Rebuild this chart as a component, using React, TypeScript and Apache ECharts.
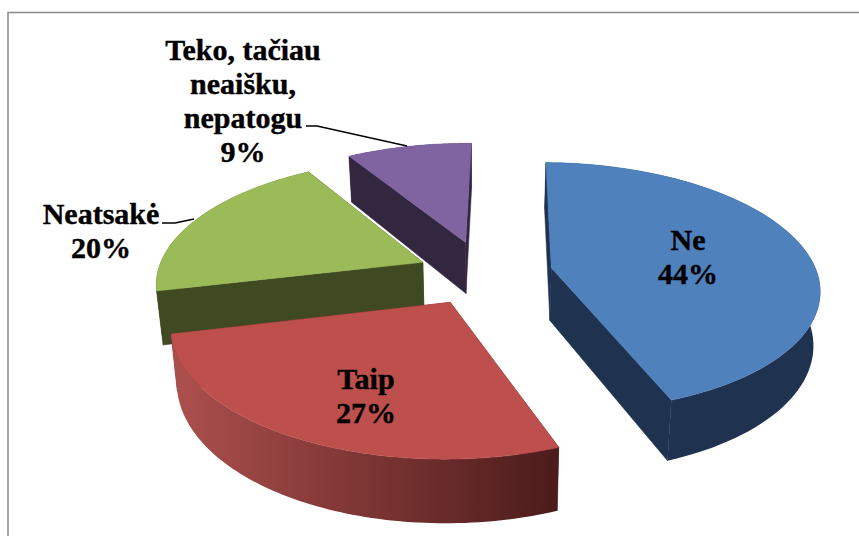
import React, { useEffect, useRef } from "react";
import * as echarts from "echarts";

const categories = ["Ne", "Taip", "Neatsakė", "Teko, tačiau\nneaišku,\nnepatogu"];
const values = [44, 27, 20, 9];

// Styles and projection settings (not data)
const topColors = ["#4f81bd", "#bd4f4c", "#9bbb59", "#8064a2"];
const wallColors = ["#1f3350", "#6a2b29", "#3f4922", "#33263f"];
const explodeX = [0.27, -0.108, -0.218, -0.056];
const explodeZ = [0.099, -0.174, 0.145, 0.315];
const drawOrder = [3, 4, 1, 2];
const labelX = [688, 366, 101, 243];
const labelY = [256, 395, 230, 100];
const START_DEG = 1;
const O = { x: 480, y: 280 };
const R = 268;
const RZ = 125;
const K = 0.154;

const project = (X: number, Z: number): [number, number] => {
  const s = 1 / (1 + K * Z);
  return [O.x + R * X * s, O.y - RZ * Z * s];
};
const lower = (p: [number, number]): [number, number] => [
  480 + (p[0] - 480) * 0.98,
  p[1] + 46 + 0.06 * (p[1] - 157),
];

const total = values.reduce((a, b) => a + b, 0);

const renderItem = (params: any, api: any) => {
  const i = params.dataIndex;
  const before = values.slice(0, i).reduce((a, b) => a + b, 0);
  const a0 = START_DEG + (before / total) * 360;
  const a1 = a0 + (api.value(0) / total) * 360;
  const ox = explodeX[i];
  const oz = explodeZ[i];
  const rim: [number, number][] = [];
  const n = 80;
  for (let k = 0; k <= n; k++) {
    const t = ((a0 + ((a1 - a0) * k) / n) * Math.PI) / 180;
    rim.push(project(ox + Math.sin(t), oz + Math.cos(t)));
  }
  const c = project(ox, oz);
  const cb = lower(c);
  const rimB = rim.map(lower);
  const z = drawOrder[i] * 10;
  const wallStyle = { fill: wallColors[i], stroke: wallColors[i], lineWidth: 0.5 };
  const rimFill =
    i === 1
      ? new echarts.graphic.LinearGradient(0, 0, 1, 0, [
          { offset: 0, color: "#ad504d" },
          { offset: 1, color: "#4b1b1b" },
        ])
      : wallColors[i];
  const children: any[] = [
    { type: "polygon", z2: z, shape: { points: [c, rim[0], rimB[0], cb] }, style: wallStyle },
    { type: "polygon", z2: z, shape: { points: [c, rim[n], rimB[n], cb] }, style: wallStyle },
    {
      type: "polygon",
      z2: z + 1,
      shape: { points: [...rim, ...rimB.slice().reverse()] },
      style: { fill: rimFill },
    },
    {
      type: "polygon",
      z2: z + 2,
      shape: { points: [c, ...rim] },
      style: { fill: topColors[i], stroke: topColors[i], lineWidth: 0.5 },
    },
    {
      type: "text",
      z2: 100,
      style: {
        text: `${categories[i]}\n${api.value(0)}%`,
        x: labelX[i],
        y: labelY[i],
        align: "center",
        verticalAlign: "middle",
        fill: "#000",
        stroke: "#000",
        lineWidth: 0.4,
        font: 'bold 30px "Liberation Serif"',
        lineHeight: 34,
      },
    },
  ];
  return { type: "group", children };
};

export default function App() {
  const ref = useRef<HTMLDivElement>(null);
  useEffect(() => {
    const chart = echarts.init(ref.current!, null, { renderer: "svg" });
    chart.setOption({
      animation: false,
      backgroundColor: "#ffffff",
      graphic: [
        {
          type: "rect",
          silent: true,
          shape: { x: 8, y: 12.5, width: 900, height: 600 },
          style: { fill: "none", stroke: "#8a8a8a", lineWidth: 1.5 },
        },
        {
          type: "polyline",
          z: 10,
          shape: { points: [[306, 126], [317, 126], [407, 146]] },
          style: { fill: "none", stroke: "#000", lineWidth: 1.5 },
        },
        {
          type: "polyline",
          z: 10,
          shape: { points: [[162, 223], [175, 223], [194, 219]] },
          style: { fill: "none", stroke: "#000", lineWidth: 1.5 },
        },
      ],
      series: [
        {
          type: "custom",
          coordinateSystem: "none",
          renderItem,
          data: values,
          silent: true,
        },
      ],
    });
    return () => chart.dispose();
  }, []);
  return (
    <div
      ref={ref}
      style={{ position: "absolute", left: 0, top: 0, width: 859, height: 536, overflow: "hidden" }}
    />
  );
}
